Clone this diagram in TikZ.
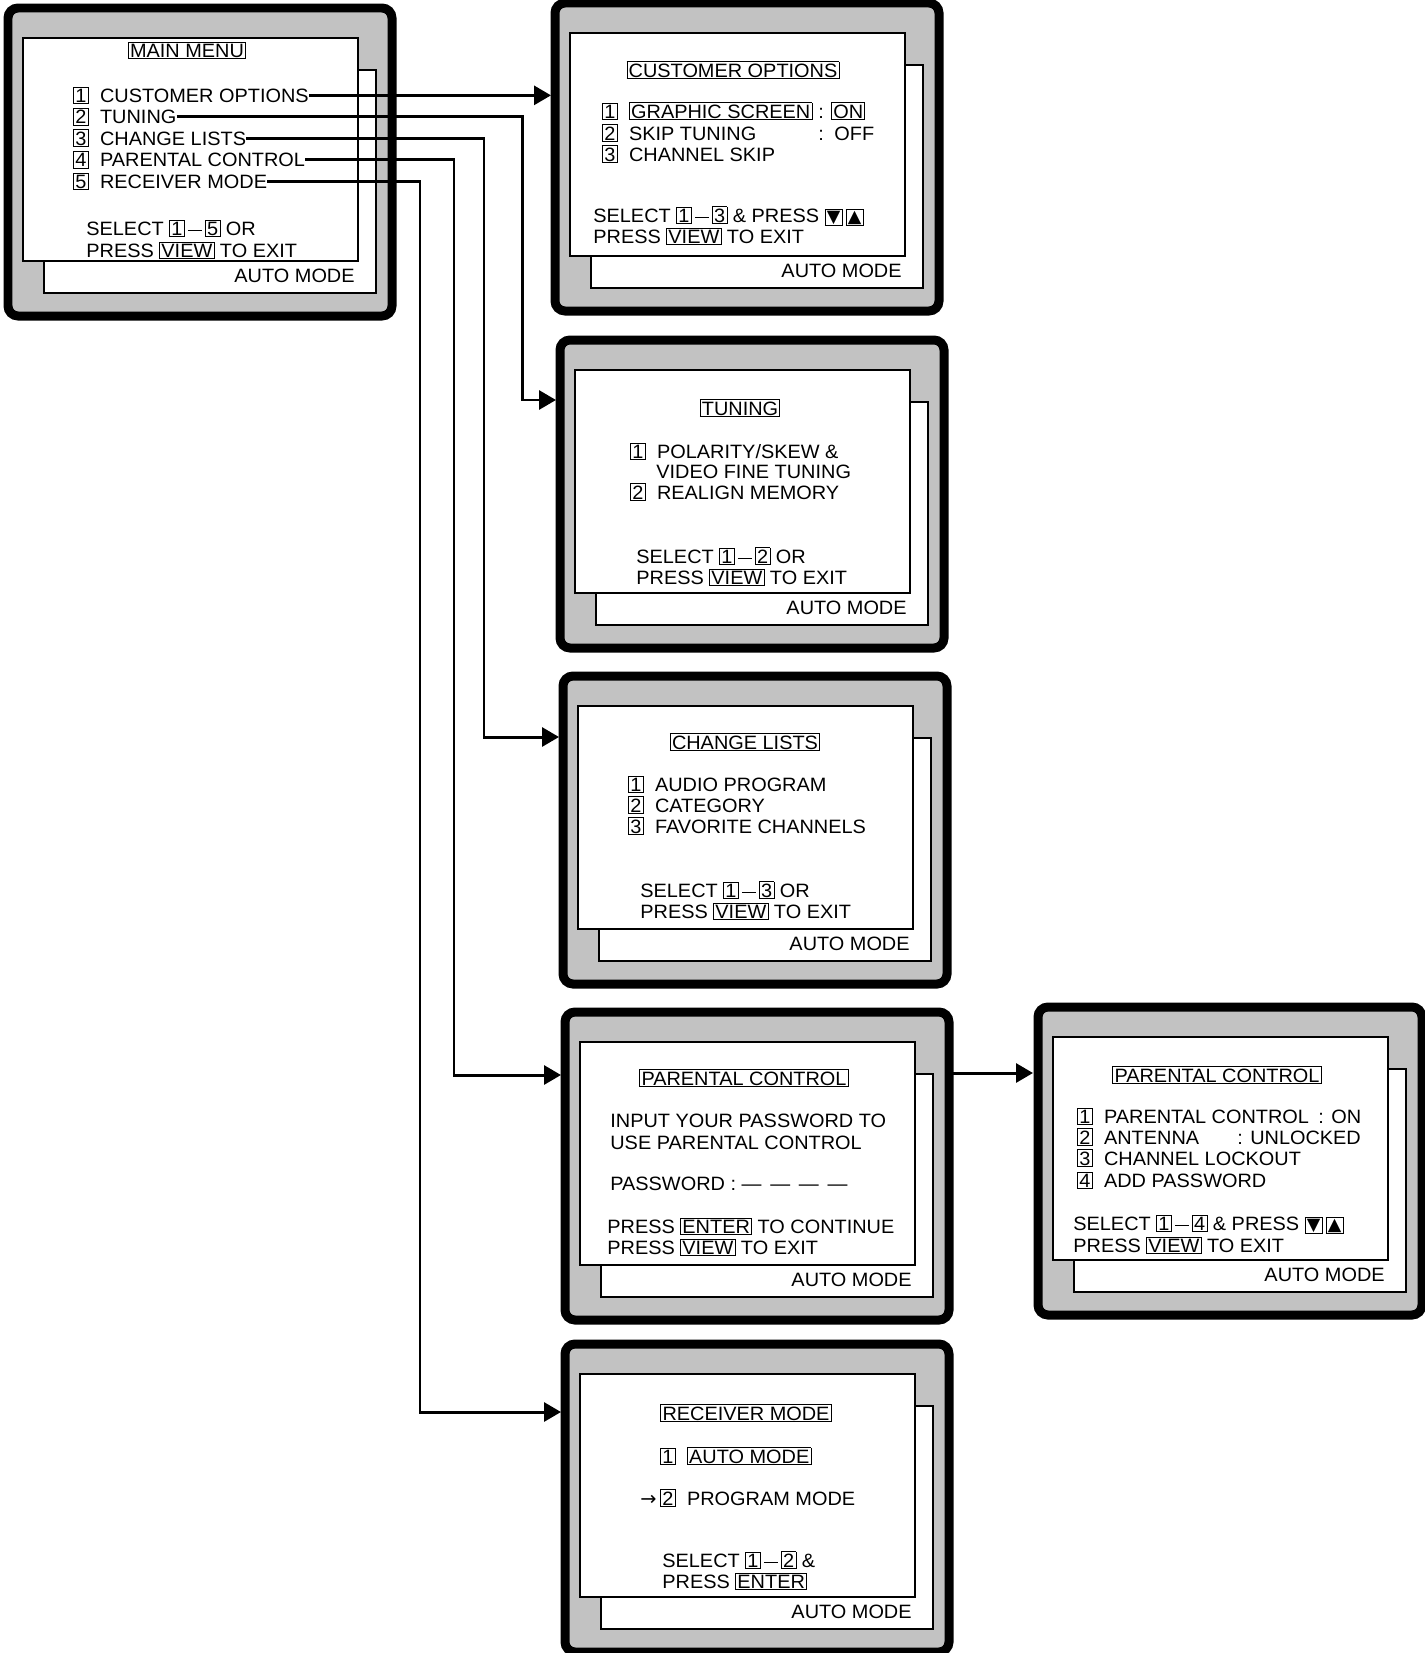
\documentclass[tikz,border=0pt]{standalone}
\usepackage{fontspec}
\setmainfont{Liberation Sans}[FakeStretch=1.03]
\newfontfamily\symfont{DejaVu Sans}
\usetikzlibrary{arrows.meta}
\newcommand{\kb}[1]{{\fboxsep=0.7pt\fboxrule=0.5pt\fbox{#1}}}
\newcommand{\opt}[1]{\kb{#1}\hspace{6.5pt}}
\newcommand{\dnkey}{\kb{\symfont\fontsize{10}{10}\selectfont ▼}}
\newcommand{\upkey}{\kb{\symfont\fontsize{10}{10}\selectfont ▲}}
\newcommand{\upto}{\,\rule[2.6pt]{8pt}{0.5pt}\,}

\begin{document}
\begin{tikzpicture}[
    x=0.02cm, y=-0.02cm,
    every node/.style={font=\fontsize{11}{13}\selectfont, inner sep=0pt},
    tvframe/.style={draw=black, fill=black!24, line width=0.18cm, rounded corners=0.2cm},
    tvpanel/.style={draw=black, fill=white, line width=0.6pt},
    screentitle/.style={anchor=base},
    item/.style={anchor=base west},
    modetag/.style={anchor=base east},
    link/.style={draw=black, line width=1.7pt, -{Triangle[length=0.34cm,width=0.38cm]}}
]
    \useasboundingbox (0,0) rectangle (1424,1653);

    % Seven TV screens: frame, back panel, front panel, mode tag.
    \foreach \n/\x/\y in {main/8/8, cust/555/3, tune/560/340, lists/563/676,
                          pin/565/1012, plock/1038/1007, recv/565/1344} {
        \draw[tvframe] (\x,\y) rectangle ++(384,308);
        \draw[tvpanel] (\x+36,\y+62) rectangle ++(332,223);
        \draw[tvpanel] (\x+15,\y+30) rectangle ++(335,223);
        \node[modetag] (\n-mode) at (\x+347,\y+274) {AUTO MODE};
    }

    % Main menu
    \node[screentitle] (mm-title) at (187,57) {\kb{MAIN MENU}};
    \node[item] (mm1) at (73,102) {\opt{1}CUSTOMER OPTIONS};
    \node[item] (mm2) at (73,123.5) {\opt{2}TUNING};
    \node[item] (mm3) at (73,145) {\opt{3}CHANGE LISTS};
    \node[item] (mm4) at (73,166.5) {\opt{4}PARENTAL CONTROL};
    \node[item] (mm5) at (73,188) {\opt{5}RECEIVER MODE};
    \node[item] (mm-sel) at (86,235) {SELECT \kb{1}\upto\kb{5} OR};
    \node[item] (mm-exit) at (86,257) {PRESS \kb{VIEW} TO EXIT};

    % Customer options
    \node[screentitle] (co-title) at (733,77) {\kb{CUSTOMER OPTIONS}};
    \node[item] (co1) at (602,118) {\opt{1}\kb{GRAPHIC SCREEN}};
    \node[item] (co1v) at (818,118) {: \kb{ON}};
    \node[item] (co2) at (602,140) {\opt{2}SKIP TUNING};
    \node[item] (co2v) at (818,140) {: \,OFF};
    \node[item] (co3) at (602,161) {\opt{3}CHANNEL SKIP};
    \node[item] (co-sel) at (593,222) {SELECT \kb{1}\upto\kb{3} \& PRESS \dnkey\,\upkey};
    \node[item] (co-exit) at (593,243) {PRESS \kb{VIEW} TO EXIT};

    % Tuning
    \node[screentitle] (tu-title) at (740,415) {\kb{TUNING}};
    \node[item] (tu1) at (630,458) {\opt{1}POLARITY/SKEW \&};
    \node[item] (tu1b) at (656,478) {VIDEO FINE TUNING};
    \node[item] (tu2) at (630,499) {\opt{2}REALIGN MEMORY};
    \node[item] (tu-sel) at (636,563) {SELECT \kb{1}\upto\kb{2} OR};
    \node[item] (tu-exit) at (636,584) {PRESS \kb{VIEW} TO EXIT};

    % Change lists
    \node[screentitle] (cl-title) at (745,749) {\kb{CHANGE LISTS}};
    \node[item] (cl1) at (628,791) {\opt{1}AUDIO PROGRAM};
    \node[item] (cl2) at (628,812) {\opt{2}CATEGORY};
    \node[item] (cl3) at (628,833) {\opt{3}FAVORITE CHANNELS};
    \node[item] (cl-sel) at (640,897) {SELECT \kb{1}\upto\kb{3} OR};
    \node[item] (cl-exit) at (640,918) {PRESS \kb{VIEW} TO EXIT};

    % Parental control, password entry
    \node[screentitle] (pc-title) at (744,1085) {\kb{PARENTAL CONTROL}};
    \node[item] (pc-ask) at (610,1127) {INPUT YOUR PASSWORD TO};
    \node[item] (pc-ask2) at (610,1149) {USE PARENTAL CONTROL};
    \node[item] (pc-pass) at (610,1190) {PASSWORD : \textemdash\hspace{5pt}\textemdash\hspace{5pt}\textemdash\hspace{5pt}\textemdash};
    \node[item] (pc-go) at (607,1233) {PRESS \kb{ENTER} TO CONTINUE};
    \node[item] (pc-exit) at (607,1254) {PRESS \kb{VIEW} TO EXIT};

    % Parental control, unlocked
    \node[screentitle] (pl-title) at (1217,1082) {\kb{PARENTAL CONTROL}};
    \node[item] (pl1) at (1077,1123) {\opt{1}PARENTAL CONTROL};
    \node[item] (pl1v) at (1318,1123) {: ON};
    \node[item] (pl2) at (1077,1144) {\opt{2}ANTENNA};
    \node[item] (pl2v) at (1237,1144) {: UNLOCKED};
    \node[item] (pl3) at (1077,1165) {\opt{3}CHANNEL LOCKOUT};
    \node[item] (pl4) at (1077,1187) {\opt{4}ADD PASSWORD};
    \node[item] (pl-sel) at (1073,1230) {SELECT \kb{1}\upto\kb{4} \& PRESS \dnkey\,\upkey};
    \node[item] (pl-exit) at (1073,1252) {PRESS \kb{VIEW} TO EXIT};

    % Receiver mode
    \node[screentitle] (rm-title) at (746,1420) {\kb{RECEIVER MODE}};
    \node[item] (rm1) at (660,1463) {\opt{1}\kb{AUTO MODE}};
    \node[item] (rm2) at (660,1505) {\opt{2}PROGRAM MODE};
    \node[anchor=base east] (rm-mark) at (657,1505) {{\symfont →}};
    \node[item] (rm-sel) at (662,1567) {SELECT \kb{1}\upto\kb{2} \&};
    \node[item] (rm-exit) at (662,1588) {PRESS \kb{ENTER}};

    % Entry points and bends of the connectors
    \coordinate (cust-in) at (551,93);
    \coordinate (tune-bend) at (522,400);
    \coordinate (tune-in) at (556,400);
    \coordinate (lists-bend) at (484,737);
    \coordinate (lists-in) at (559,737);
    \coordinate (pin-bend) at (454,1075);
    \coordinate (pin-in) at (561,1075);
    \coordinate (recv-bend) at (420,1412);
    \coordinate (recv-in) at (561,1412);
    \coordinate (pin-out) at (949,1073);
    \coordinate (plock-in) at (1033,1073);

    \draw[link] (mm1.east) -- (mm1.east -| cust-in);
    \draw[link] (mm2.east) -| (tune-bend) -- (tune-in);
    \draw[link] (mm3.east) -| (lists-bend) -- (lists-in);
    \draw[link] (mm4.east) -| (pin-bend) -- (pin-in);
    \draw[link] (mm5.east) -| (recv-bend) -- (recv-in);
    \draw[link] (pin-out) -- (plock-in);
\end{tikzpicture}
\end{document}
